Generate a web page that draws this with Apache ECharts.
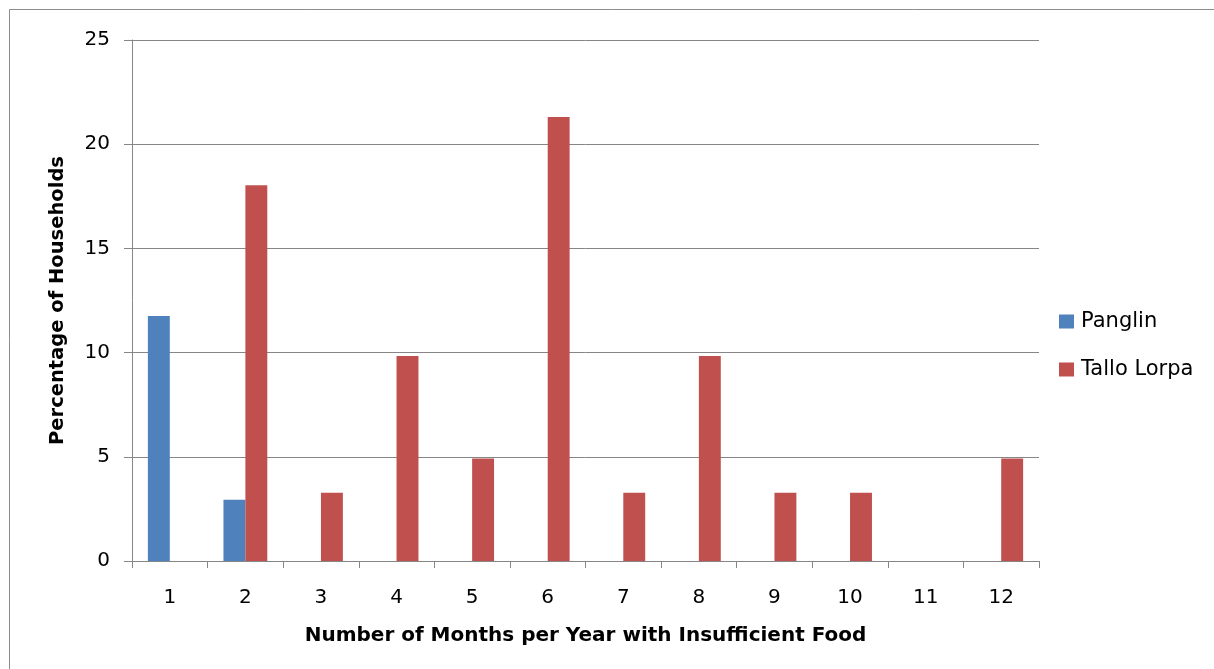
<!DOCTYPE html>
<html><head><meta charset="utf-8">
<script src="https://cdn.jsdelivr.net/npm/echarts@6/dist/echarts.min.js"></script>
<style>html,body{margin:0;padding:0;background:#fff}#c{width:1214px;height:669px}</style>
</head><body><div id="c"></div>
<script>
const categories = ['1','2','3','4','5','6','7','8','9','10','11','12'];
const panglin = [11.76, 2.94, 0, 0, 0, 0, 0, 0, 0, 0, 0, 0];
const talloLorpa = [0, 18.03, 3.28, 9.84, 4.92, 21.31, 3.28, 9.84, 3.28, 3.28, 0, 4.92];
const yTicks = [0, 5, 10, 15, 20, 25];

const FONT = '"DejaVu Sans", sans-serif';
const chart = echarts.init(document.getElementById('c'));
chart.setOption({
  animation: false,
  graphic: [{type:'rect', shape:{x:9.5,y:9.5,width:1230,height:700}, style:{fill:'none', stroke:'#8c8c8c', lineWidth:1}, silent:true}],
  grid: {left:132, right:175, top:40, bottom:108},
  legend: {
    orient:'vertical', left:1054, top:306, itemWidth:15, itemHeight:14, itemGap:27,
    icon:'rect', textStyle:{fontFamily:FONT, fontSize:21, color:'#000', padding:[0,0,0,2]},
    data:['Panglin','Tallo Lorpa']
  },
  xAxis: {
    type:'category', data:categories,
    name:'Number of Months per Year with Insufficient Food', nameLocation:'middle', nameGap:65,
    nameTextStyle:{fontFamily:FONT, fontSize:20, fontWeight:'bold', color:'#000'},
    axisLine:{lineStyle:{color:'#868686', width:1}},
    axisTick:{show:true, alignWithLabel:false, length:7, lineStyle:{color:'#868686'}},
    axisLabel:{fontFamily:FONT, fontSize:20, color:'#000', margin:27},
    splitLine:{show:false}
  },
  yAxis: {
    type:'value', min:0, max:25, interval:5,
    name:'Percentage of Households', nameLocation:'middle', nameGap:64, nameRotate:90,
    nameTextStyle:{fontFamily:FONT, fontSize:19.5, fontWeight:'bold', color:'#000'},
    axisLine:{show:true, lineStyle:{color:'#868686', width:1}},
    axisTick:{show:true, length:8, lineStyle:{color:'#868686'}},
    axisLabel:{fontFamily:FONT, fontSize:20, color:'#000', margin:22, padding:[4,0,0,0],
      formatter: v => yTicks.includes(v) ? String(v) : ''},
    splitLine:{show:true, lineStyle:{color:'#868686', width:1}}
  },
  series: [
    {name:'Panglin', type:'bar', data:panglin, barGap:'0%', barCategoryGap:'42%', itemStyle:{color:'#4F81BD'}},
    {name:'Tallo Lorpa', type:'bar', data:talloLorpa, barGap:'0%', barCategoryGap:'42%', itemStyle:{color:'#C0504D'}}
  ]
});
</script></body></html>
